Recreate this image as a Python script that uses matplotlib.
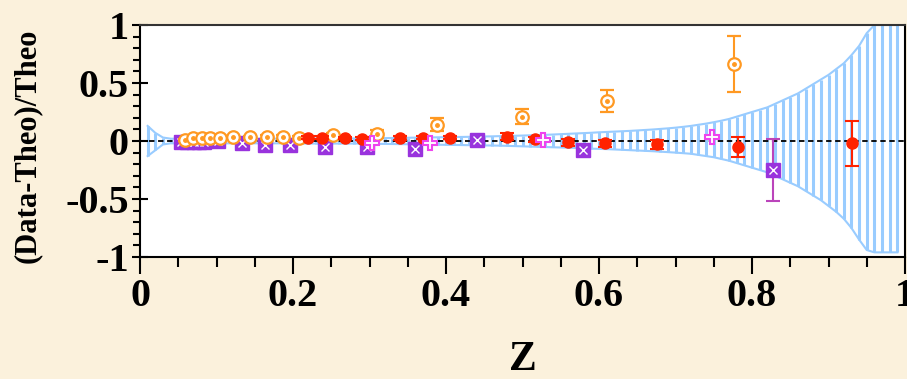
import numpy as np
import matplotlib.pyplot as plt
from matplotlib.ticker import MultipleLocator

plt.rcParams['font.family'] = ['Liberation Serif', 'DejaVu Serif']
plt.rcParams['font.weight'] = 'bold'

# banda teorica (limites superior e inferior em z = 0.01 ... 0.99)
band_z = np.round(np.arange(1, 100) * 0.01, 2)
band_hi = [0.13, 0.07, 0.03] + [0.02] * 7 + [0.02] * 10 + [0.022] * 10 + \
    [0.025, 0.025, 0.026, 0.027, 0.028, 0.029, 0.030, 0.031, 0.032, 0.033,
     0.034, 0.035, 0.036, 0.038, 0.039, 0.040, 0.042, 0.043, 0.045, 0.047,
     0.049, 0.051, 0.053, 0.056, 0.059, 0.062, 0.065, 0.068, 0.071, 0.075,
     0.078, 0.081, 0.084, 0.087, 0.091, 0.095, 0.099, 0.104, 0.109, 0.115,
     0.122, 0.13, 0.14, 0.15, 0.162, 0.175, 0.19, 0.21, 0.23, 0.25,
     0.27, 0.29, 0.32, 0.35, 0.38, 0.41, 0.45, 0.49, 0.53, 0.57,
     0.62, 0.67, 0.74, 0.82, 0.93, 1.0, 1.0, 1.0, 1.0]
band_lo = [-0.13, -0.08, -0.03] + [-0.02] * 7 + [-0.02] * 10 + [-0.022] * 10 + \
    [-0.025, -0.025, -0.026, -0.027, -0.028, -0.029, -0.030, -0.031, -0.032, -0.033,
     -0.034, -0.035, -0.036, -0.037, -0.038, -0.039, -0.040, -0.042, -0.044, -0.046,
     -0.048, -0.050, -0.052, -0.054, -0.056, -0.058, -0.060, -0.063, -0.066, -0.068,
     -0.07, -0.073, -0.076, -0.079, -0.082, -0.085, -0.088, -0.092, -0.096, -0.10,
     -0.105, -0.11, -0.12, -0.13, -0.14, -0.155, -0.17, -0.19, -0.21, -0.23,
     -0.25, -0.27, -0.30, -0.33, -0.36, -0.39, -0.43, -0.47, -0.51, -0.56,
     -0.61, -0.67, -0.75, -0.85, -0.94, -0.96, -0.96, -0.96, -0.96]

# dados
orange_z = [0.059, 0.069, 0.081, 0.092, 0.105, 0.122, 0.144, 0.166, 0.187, 0.208,
            0.252, 0.310, 0.388, 0.499, 0.610, 0.776]
orange_y = [0.01, 0.025, 0.03, 0.03, 0.03, 0.035, 0.035, 0.035, 0.035, 0.03,
            0.05, 0.06, 0.14, 0.21, 0.347, 0.664]
orange_err = [0.01, 0.01, 0.01, 0.01, 0.01, 0.012, 0.012, 0.015, 0.015, 0.015,
              0.02, 0.035, 0.058, 0.065, 0.093, 0.24]

red_z = [0.220, 0.238, 0.268, 0.290, 0.340, 0.370, 0.405, 0.480, 0.516, 0.559,
         0.608, 0.676, 0.782, 0.931]
red_y = [0.03, 0.03, 0.025, 0.02, 0.025, 0.03, 0.03, 0.035, 0.015, -0.01,
         -0.02, -0.03, -0.05, -0.02]
red_err = [0.01, 0.01, 0.01, 0.012, 0.015, 0.015, 0.015, 0.03, 0.02, 0.03,
           0.03, 0.035, 0.086, 0.194]

purple_z = [0.054, 0.062, 0.070, 0.077, 0.084, 0.102, 0.133, 0.163, 0.196, 0.242,
            0.297, 0.359, 0.441, 0.579, 0.827]
purple_y = [-0.01, -0.01, -0.01, -0.01, -0.01, 0.0, -0.02, -0.035, -0.035, -0.055,
            -0.05, -0.065, 0.01, -0.08, -0.25]
purple_err = [0.01, 0.01, 0.01, 0.01, 0.01, 0.01, 0.015, 0.015, 0.015, 0.02,
              0.02, 0.02, 0.02, 0.025, 0.27]

plus_z = [0.303, 0.379, 0.527, 0.748]
plus_y = [-0.02, -0.02, 0.01, 0.037]

bg = '#FBF1DC'
fig = plt.figure(figsize=(9.07, 3.79), dpi=100, facecolor=bg)
ax = fig.add_axes([140 / 907, 1 - 257 / 379, 765 / 907, 232 / 379])

# banda
blue = '#99CCFF'
ax.vlines(band_z, band_lo, band_hi, color=blue, lw=2.2, zorder=1)
ax.plot(band_z, band_hi, color=blue, lw=1.5, zorder=1)
ax.plot(band_z, band_lo, color=blue, lw=1.5, zorder=1)
ax.axhline(0, color='k', ls=(0, (3, 2)), lw=1.3, zorder=2)

# series
ax.errorbar(purple_z, purple_y, yerr=purple_err, fmt='s', ms=10, mfc='#9933DD', mec='#9933DD',
            ecolor='#BB44BB', elinewidth=1.5, capsize=5, capthick=1.5, zorder=3)
ax.plot(purple_z, purple_y, 'x', ms=6, mec='white', mew=1, zorder=3.1)

ax.errorbar(orange_z, orange_y, yerr=orange_err, fmt='o', ms=9, mfc='white', mec='#FF9922',
            mew=1.6, ecolor='#FF9922', elinewidth=1.5, capsize=5, capthick=1.5, zorder=4)
ax.plot(orange_z, orange_y, 'o', ms=2.5, color='#FF9922', zorder=4.1)

ax.errorbar(red_z, red_y, yerr=red_err, fmt='o', ms=8, color='#FF2200',
            elinewidth=1.5, capsize=5, capthick=1.5, zorder=5)

ax.plot(plus_z, plus_y, 'P', ms=10, mfc='white', mec='#EE44EE', mew=1.5, zorder=6)

ax.set_xlim(0, 1)
ax.set_ylim(-1, 1)
ax.xaxis.set_major_locator(MultipleLocator(0.2))
ax.xaxis.set_minor_locator(MultipleLocator(0.05))
ax.yaxis.set_major_locator(MultipleLocator(0.5))
ax.yaxis.set_minor_locator(MultipleLocator(0.1))
ax.xaxis.set_major_formatter(plt.FuncFormatter(lambda v, p: f'{v:g}'))
ax.yaxis.set_major_formatter(plt.FuncFormatter(lambda v, p: f'{v:g}'))
ax.tick_params(axis='x', which='major', direction='out', length=12, width=1.5, labelsize=29, pad=3)
ax.tick_params(axis='x', which='minor', direction='out', length=7, width=1.5)
ax.tick_params(axis='y', which='major', direction='inout', length=12, width=1.5, labelsize=29, pad=2)
ax.tick_params(axis='y', which='minor', direction='out', length=5, width=1.5)
for s in ax.spines.values():
    s.set_linewidth(1.5)
ax.spines['top'].set_color('#333333')

fig.text(27 / 907, 1 - 146 / 379, '(Data-Theo)/Theo', rotation=90, ha='center', va='center',
         fontsize=22, fontweight='bold')
fig.text(523 / 907, 1 - 360 / 379, 'Z', ha='center', va='center', fontsize=30, fontweight='bold')

fig.savefig('out.png', dpi=100, facecolor=bg)
